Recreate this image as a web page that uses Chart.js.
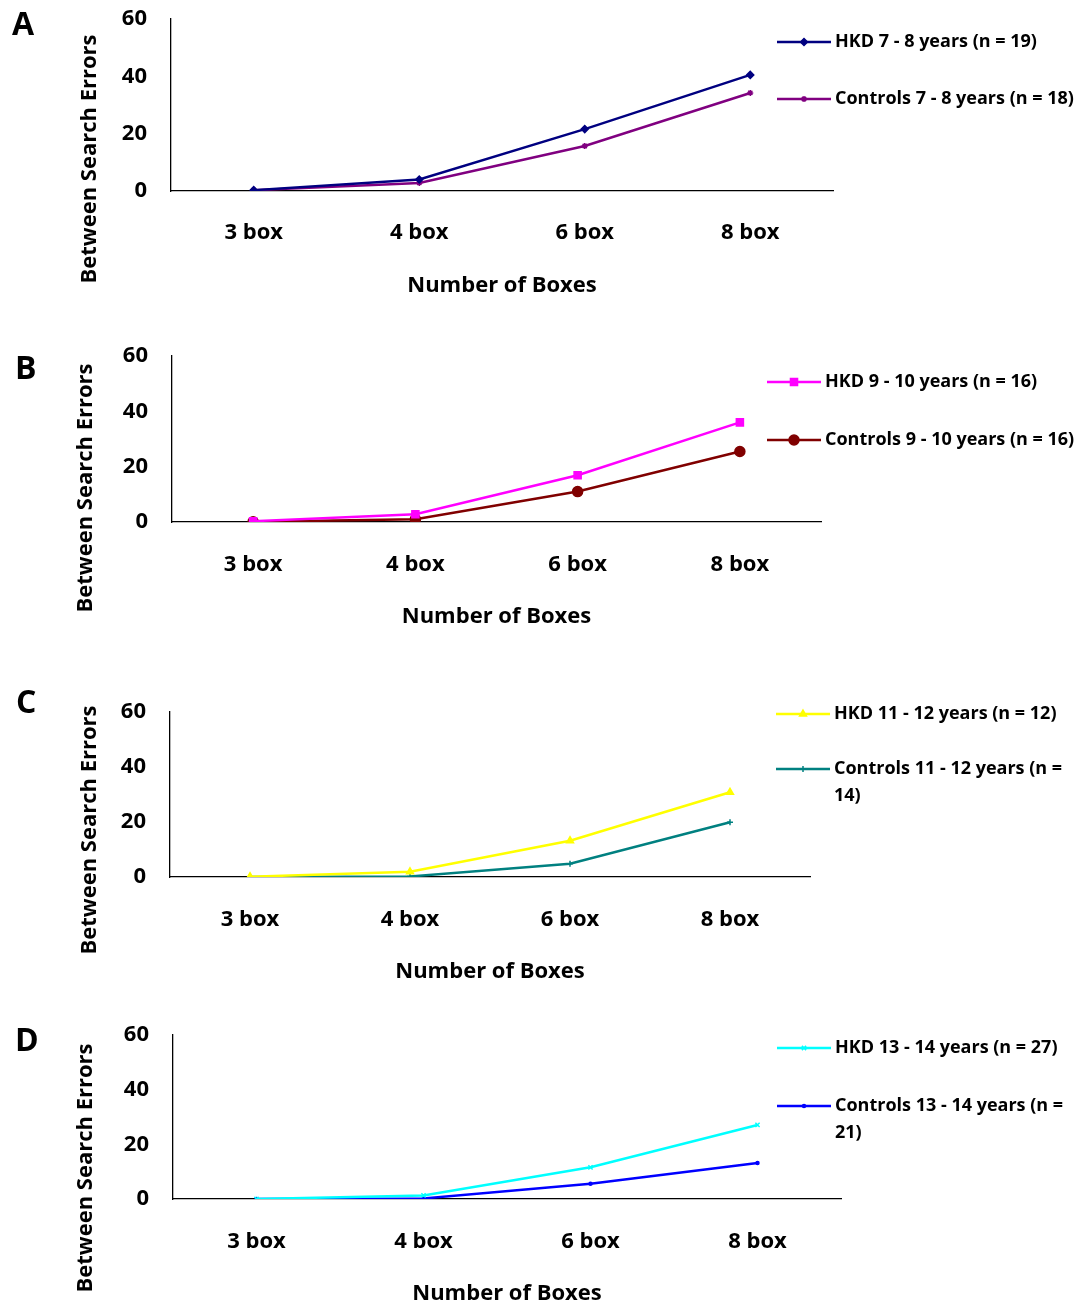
<!DOCTYPE html>
<html>
<head>
<meta charset="utf-8">
<script src="https://cdn.jsdelivr.net/npm/chart.js@4.4.0/dist/chart.umd.min.js"></script>
<style>
  body { margin: 0; background: #fff; width: 1087px; height: 1309px; position: relative; overflow: hidden; }
  canvas { position: absolute; left: 0; }
</style>
</head>
<body>
<canvas id="cA"></canvas>
<canvas id="cB"></canvas>
<canvas id="cC"></canvas>
<canvas id="cD"></canvas>
<script>
// categories and series values
const categories = ['3 box', '4 box', '6 box', '8 box'];

const hkd7_8   = [0.3, 4.0, 21.6, 40.5];
const ctl7_8   = [0.3, 2.8, 15.7, 34.2];
const hkd9_10  = [0.3, 2.8, 16.9, 36.0];
const ctl9_10  = [0.1, 1.0, 11.0, 25.5];
const hkd11_12 = [0.1, 1.9, 13.2, 30.8];
const ctl11_12 = [0.0, 0.2, 4.8, 19.9];
const hkd13_14 = [0.0, 1.3, 11.6, 27.1];
const ctl13_14 = [0.0, 0.2, 5.6, 13.2];

const yTicks = [0, 20, 40, 60];
const yTitle = 'Between Search Errors';
const xTitle = 'Number of Boxes';

const FONT = '"Open Sans", Lato, sans-serif';
const W = 1087;
const FS = 22;
const LH = FS * 1.2;

// page layout for each panel
const panels = [
  { id: 'cA', letter: 'A', top: 0, height: 320,
    plotLeft: 171, plotRight: 833, plotTop: 19, plotBottom: 191, labelY: 233, titleY: 286,
    letterX: 12, letterY: 26, yTitleX: 90, yTitleY: 159, legX: 777, legY: [42, 99],
    series: [
      { label: 'HKD 7 - 8 years (n = 19)', data: hkd7_8, color: '#000080', style: 'rectRot', r: 3.5 },
      { label: 'Controls 7 - 8 years (n = 18)', data: ctl7_8, color: '#800080', style: 'star', r: 3 }
    ] },
  { id: 'cB', letter: 'B', top: 330, height: 325,
    plotLeft: 172, plotRight: 821, plotTop: 356, plotBottom: 522, labelY: 565, titleY: 617,
    letterX: 15, letterY: 370, yTitleX: 86, yTitleY: 488, legX: 767, legY: [382, 440],
    series: [
      { label: 'HKD 9 - 10 years (n = 16)', data: hkd9_10, color: '#FF00FF', style: 'rect', r: 5 },
      { label: 'Controls 9 - 10 years (n = 16)', data: ctl9_10, color: '#800000', style: 'circle', r: 5 }
    ] },
  { id: 'cC', letter: 'C', top: 670, height: 320,
    plotLeft: 170, plotRight: 810, plotTop: 712, plotBottom: 877, labelY: 920, titleY: 972,
    letterX: 16, letterY: 704, yTitleX: 90, yTitleY: 830, legX: 776, legY: [714, 769],
    series: [
      { label: 'HKD 11 - 12 years (n = 12)', data: hkd11_12, color: '#FFFF00', style: 'triangle', r: 4 },
      { label: 'Controls 11 - 12 years (n = 14)', data: ctl11_12, color: '#008080', style: 'cross', r: 3 }
    ] },
  { id: 'cD', letter: 'D', top: 1000, height: 309,
    plotLeft: 173, plotRight: 841, plotTop: 1035, plotBottom: 1199, labelY: 1242, titleY: 1294,
    letterX: 15, letterY: 1042, yTitleX: 86, yTitleY: 1168, legX: 777, legY: [1048, 1106],
    series: [
      { label: 'HKD 13 - 14 years (n = 27)', data: hkd13_14, color: '#00FFFF', style: 'crossRot', r: 3 },
      { label: 'Controls 13 - 14 years (n = 21)', data: ctl13_14, color: '#0000FF', style: 'circle', r: 1.5 }
    ] }
];

function marker(ctx, s, x, y) {
  ctx.fillStyle = s.color;
  ctx.strokeStyle = s.color;
  ctx.lineWidth = 1.5;
  if (Chart.helpers && Chart.helpers.drawPoint) {
    Chart.helpers.drawPoint(ctx, { pointStyle: s.style, rotation: 0, radius: s.r, borderWidth: 1.5 }, x, y);
  } else {
    ctx.fillRect(x - s.r, y - s.r, s.r * 2, s.r * 2);
  }
}

// panel letter, rotated y title and the legend on the right
function makeDecor(p) {
  return {
    id: 'decor' + p.letter,
    afterDraw(chart) {
      const ctx = chart.ctx;
      ctx.save();
      ctx.fillStyle = '#000';
      ctx.textBaseline = 'middle';
      ctx.textAlign = 'left';
      ctx.font = 'bold 32px ' + FONT;
      ctx.fillText(p.letter, p.letterX, p.letterY - p.top);

      ctx.save();
      ctx.translate(p.yTitleX, p.yTitleY - p.top);
      ctx.rotate(-Math.PI / 2);
      ctx.textAlign = 'center';
      ctx.font = 'bold 22px ' + FONT;
      ctx.fillText(yTitle, 0, 0);
      ctx.restore();

      ctx.font = 'bold 18px ' + FONT;
      p.series.forEach((s, i) => {
        const y = p.legY[i] - p.top;
        ctx.strokeStyle = s.color;
        ctx.lineWidth = 2.5;
        ctx.beginPath();
        ctx.moveTo(p.legX, y);
        ctx.lineTo(p.legX + 54, y);
        ctx.stroke();
        marker(ctx, s, p.legX + 27, y);

        // wrap text to the page edge
        const tx = p.legX + 58;
        const maxW = W - tx - 2;
        const words = s.label.split(' ');
        const lines = [];
        let cur = '';
        words.forEach(w => {
          const t = cur ? cur + ' ' + w : w;
          if (ctx.measureText(t).width > maxW && cur) { lines.push(cur); cur = w; }
          else cur = t;
        });
        lines.push(cur);
        ctx.fillStyle = '#000';
        lines.forEach((ln, k) => ctx.fillText(ln, tx, y + k * 27));
      });
      ctx.restore();
    }
  };
}

panels.forEach(p => {
  const cv = document.getElementById(p.id);
  cv.width = W;
  cv.height = p.height;
  cv.style.top = p.top + 'px';

  const tickFont = { family: FONT, size: FS, weight: 'bold' };
  const canvasBottom = p.top + p.height;

  new Chart(cv, {
    type: 'line',
    data: {
      labels: categories,
      datasets: p.series.map(s => ({
        label: s.label,
        data: s.data,
        borderColor: s.color,
        backgroundColor: s.color,
        pointBackgroundColor: s.color,
        pointBorderColor: s.color,
        pointStyle: s.style,
        pointRadius: s.r,
        pointBorderWidth: 1.5,
        borderWidth: 2.5,
        tension: 0,
        fill: false
      }))
    },
    options: {
      responsive: false,
      animation: false,
      events: [],
      layout: { padding: { left: 0, right: W - p.plotRight, top: p.plotTop - p.top, bottom: 0 } },
      plugins: { legend: { display: false }, tooltip: { enabled: false } },
      scales: {
        x: {
          offset: true,
          grid: { display: false, drawTicks: false },
          border: { color: '#000', width: 1.3 },
          ticks: { color: '#000', font: tickFont, padding: p.labelY - p.plotBottom - LH / 2, maxRotation: 0 },
          title: {
            display: true, text: xTitle, color: '#000', font: tickFont,
            padding: { top: 0, bottom: canvasBottom - p.titleY - LH / 2 }
          },
          afterFit(s) {
            s.height = canvasBottom - p.plotBottom;
            s.paddingLeft = 0; s.paddingRight = 0;
          }
        },
        y: {
          min: 0, max: 60,
          grid: { display: false, drawTicks: false },
          border: { color: '#000', width: 1.3 },
          ticks: { color: '#000', font: tickFont, padding: 24, stepSize: 20 },
          afterBuildTicks(s) { s.ticks = yTicks.map(v => ({ value: v })); },
          afterFit(s) {
            s.width = p.plotLeft;
            s.paddingTop = 0; s.paddingBottom = 0;
          }
        }
      }
    },
    plugins: [makeDecor(p)]
  });
});
</script>
</body>
</html>
